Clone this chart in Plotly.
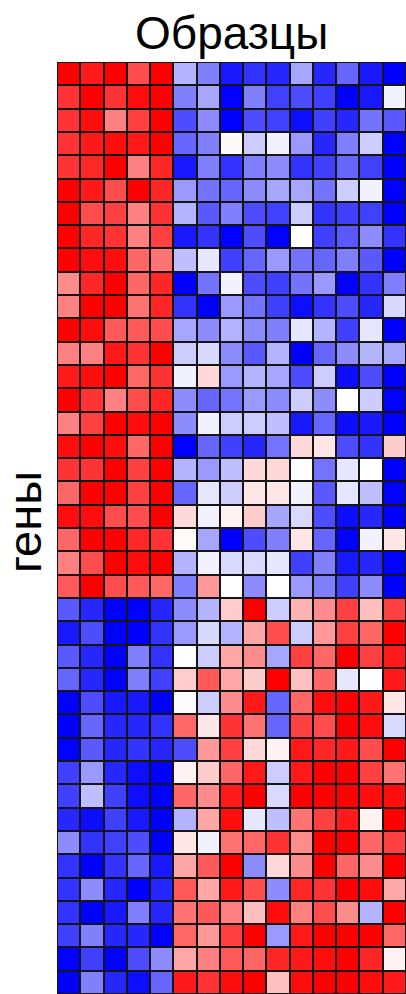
import plotly.graph_objects as go

samples = [f"S{i+1}" for i in range(15)]
genes = [f"G{i+1}" for i in range(40)]

# rows top-to-bottom, 5 "left" samples + 10 "right" samples
row_values = [
    [1, 0.9, 1, 0.7, 1, -0.3, -0.5, -0.9, -0.8, -0.85, -0.35, -0.85, -0.6, -0.9, -1],
    [0.8, 1, 0.8, 0.95, 1, -0.5, -0.35, -1, -0.5, -0.75, -0.7, -0.75, -1, -0.9, -0.05],
    [0.8, 0.95, 0.5, 0.75, 1, -0.7, -0.45, -1, -0.7, -0.75, -0.95, -0.75, -0.85, -0.55, -0.65],
    [0.8, 0.9, 0.95, 0.9, 1, -0.6, -0.5, 0.02, -0.2, -0.05, -0.4, -0.85, -0.5, -0.2, -1],
    [0.8, 0.85, 1, 0.5, 0.85, -0.9, -0.5, -0.8, -0.5, -0.45, -0.8, -0.75, -0.6, -0.75, -1],
    [1, 0.9, 0.7, 1, 0.85, -0.4, -0.55, -0.6, -0.45, -0.35, -0.35, -0.55, -0.2, -0.05, -1],
    [1, 0.7, 0.75, 0.5, 0.8, -0.3, -0.65, -0.5, -0.7, -0.75, -0.2, -0.8, -0.75, -0.75, -1],
    [1, 0.85, 0.8, 0.5, 0.75, -0.9, -0.8, -1, -0.7, -1, 0.0, -0.75, -0.65, -0.45, -0.8],
    [1, 0.95, 0.95, 0.6, 0.55, -0.25, -0.1, -0.75, -0.6, -0.4, -0.55, -0.6, -0.5, -0.65, -1],
    [0.45, 0.85, 1, 0.6, 0.85, -1, -0.55, -0.05, -0.7, -0.75, -0.55, -0.4, -1, -0.8, -0.5],
    [0.5, 1, 1, 0.55, 0.85, -0.8, -1, -0.4, -0.55, -0.75, -0.95, -0.8, -0.7, -0.85, -0.15],
    [1, 0.95, 0.65, 0.65, 0.7, -0.35, -0.45, -0.3, -0.45, -0.5, -0.1, -0.3, -0.75, -0.1, -1],
    [0.5, 0.5, 0.9, 0.8, 1, -0.2, -0.15, -0.45, -0.65, -0.3, -1, -0.6, -0.45, -0.3, -0.35],
    [0.9, 0.95, 1, 0.6, 0.8, -0.05, 0.15, -0.4, -0.3, -0.35, -0.7, -0.2, -0.95, -0.7, -1],
    [1, 0.8, 0.5, 0.7, 0.85, -0.45, -0.6, -0.55, -0.4, -0.45, -0.2, -0.45, 0.0, -0.2, -1],
    [0.5, 0.75, 1, 0.95, 1, -0.45, -0.05, -0.2, -0.2, -0.25, -0.9, -0.6, -0.95, -0.9, -1],
    [0.95, 1, 0.95, 0.6, 1, -1, -0.6, -0.75, -0.85, -0.55, 0.15, 0.1, -0.7, -0.8, 0.2],
    [0.8, 0.8, 1, 0.75, 1, -0.3, -0.4, -0.25, 0.15, 0.15, 0.0, -0.55, -0.1, 0.0, -1],
    [0.6, 1, 1, 0.75, 1, -0.6, -0.1, -0.2, 0.1, 0.1, -0.05, -0.65, -0.1, -0.25, -1],
    [0.95, 0.95, 0.7, 0.7, 1, 0.15, -0.05, 0.05, 0.2, -0.35, -0.15, -0.7, -0.95, -0.85, -1],
    [0.6, 1, 1, 0.85, 0.8, 0.02, -0.35, -1, -0.7, -0.5, 0.1, -0.6, -1, -0.05, 0.1],
    [0.5, 0.7, 1, 0.95, 1, -0.3, -0.05, -0.15, -0.15, -0.1, -0.75, -0.5, -0.9, -0.85, -1],
    [0.65, 1, 0.7, 0.65, 0.6, -0.5, 0.4, 0.0, -0.45, 0.0, -0.4, -0.5, -0.75, -0.45, -1],
    [-0.65, -0.85, -1, -1, -0.85, -0.45, -0.3, 0.2, 1, -0.2, 0.3, 0.45, 0.75, 0.25, 0.75],
    [-0.9, -0.7, -1, -1, -0.8, -0.4, -0.15, -0.3, 0.35, 0.7, -0.2, 0.4, 0.75, 0.6, 1],
    [-0.65, -0.85, -1, -0.5, -0.8, 0.0, -0.2, 0.35, 0.45, -0.35, 0.75, 0.6, 1, 0.75, 0.9],
    [-0.6, -0.85, -1, -0.5, -0.75, 0.2, 0.65, 0.35, 0.2, 1, 0.25, 0.6, -0.1, 0.0, 0.9],
    [-1, -0.7, -0.9, -0.9, -1, 0.02, -0.2, 0.45, 0.9, -0.6, 0.6, 0.95, 1, 0.9, 0.1],
    [-1, -0.6, -0.85, -0.85, -0.8, 0.6, 0.1, 0.8, 0.55, -0.6, 0.75, 0.7, 1, 0.95, -0.15],
    [-1, -0.65, -0.85, -0.8, -0.85, -0.7, 0.4, 0.75, 0.15, 0.05, 0.9, 0.85, 0.9, 0.7, 1],
    [-0.75, -0.4, -0.85, -0.95, -1, 0.05, 0.2, 0.6, 0.9, -0.2, 0.9, 1, 1, 0.75, 0.55],
    [-0.75, -0.25, -0.75, -0.95, -1, 0.6, 0.45, 0.9, 1, -0.15, 1, 1, 1, 0.95, 0.95],
    [-0.85, -0.95, -0.75, -0.9, -1, -0.3, 0.35, 0.95, -0.1, -0.25, 0.55, 0.75, 0.9, 0.05, 1],
    [-0.45, -0.8, -0.75, -0.7, -1, 0.1, -0.05, 0.55, 0.6, 0.8, 0.45, 1, 1, 0.6, 0.75],
    [-0.8, -1, -0.8, -0.6, -0.9, 0.35, 0.65, 1, -0.45, 0.15, 0.45, 1, 0.6, 0.45, 1],
    [-0.8, -0.45, -0.85, -1, -0.85, 0.65, 0.35, 0.9, 0.7, -0.45, 0.85, 0.8, 1, 0.95, 0.35],
    [-0.8, -1, -0.9, -0.5, -0.85, 0.55, 0.65, 0.5, 0.25, 0.95, 0.5, 0.7, 0.45, -0.3, 1],
    [-0.75, -0.5, -0.85, -0.85, -1, 0.6, 0.4, 0.75, 1, -0.4, 0.9, 1, 1, 1, 0.6],
    [-1, -0.75, -1, -0.7, -0.45, 0.35, 0.5, 0.65, 0.6, 0.85, 0.9, 0.95, 1, 0.85, 0.05],
    [-1, -0.5, -0.85, -0.95, -0.6, 0.9, 0.8, 0.95, 1, 0.25, 0.95, 1, 1, 0.95, 0.9],
]

title_text = "Образцы"
ylabel_text = "гены"

fig = go.Figure(go.Heatmap(
    z=row_values,
    x=samples,
    y=genes,
    zmin=-1, zmax=1,
    colorscale=[[0, "rgb(0,0,255)"], [0.5, "rgb(255,255,255)"], [1, "rgb(255,0,0)"]],
    showscale=False,
    xgap=2, ygap=2,
    hoverinfo="skip",
))

fig.update_layout(
    width=406, height=994,
    margin=dict(l=57, r=0, t=62, b=0),
    paper_bgcolor="white",
    plot_bgcolor="#151515",
    xaxis=dict(visible=False, range=[-0.5, 14.5]),
    yaxis=dict(visible=False, autorange=False, range=[39.5, -0.5]),
    font=dict(family="Liberation Sans, Arial, sans-serif", color="black"),
    annotations=[
        dict(text=title_text, xref="paper", yref="paper", x=0.5, y=1.0,
             yshift=29, showarrow=False, font=dict(size=46), xanchor="center", yanchor="middle"),
        dict(text=ylabel_text, xref="paper", yref="paper", x=0.0, y=0.5,
             xshift=-33, yshift=6, showarrow=False, textangle=-90, font=dict(size=47),
             xanchor="center", yanchor="middle"),
    ],
)

fig.write_html("out.html", config={"displayModeBar": False},
               post_script="document.body.style.margin='0';")
